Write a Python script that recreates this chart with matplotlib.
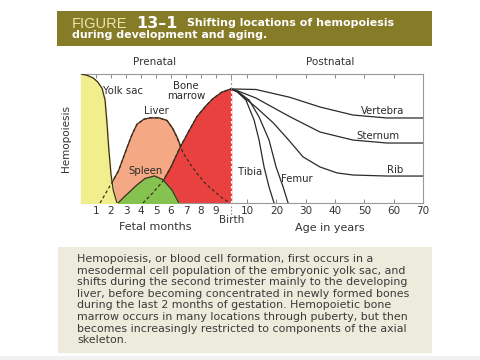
import numpy as np
import matplotlib
matplotlib.use("Agg")
import matplotlib.pyplot as plt
from matplotlib.patches import Rectangle

plt.rcParams['font.family'] = ['DejaVu Sans']

# prenatal curves, x in fetal months (birth = 10)
yolk_m = [0, 0.4, 0.8, 1.1, 1.4, 1.6, 1.73, 1.85, 2.0, 2.15, 2.4]
yolk_v = [1.0, 0.99, 0.97, 0.94, 0.89, 0.8, 0.62, 0.42, 0.22, 0.1, 0]
liver_m = [1.27, 2.07, 2.5, 3.07, 3.4, 3.73, 4.2, 4.6, 5.2, 5.73, 6.1, 6.4, 6.8, 7.3, 7.73, 8.3, 8.8, 9.4, 9.93]
liver_v = [0, 0.16, 0.25, 0.43, 0.53, 0.61, 0.65, 0.66, 0.66, 0.64, 0.58, 0.51, 0.39, 0.3, 0.23, 0.15, 0.1, 0.04, 0]
spleen_m = [2.47, 2.9, 3.27, 3.73, 4.27, 4.9, 5.47, 6.07, 6.53]
spleen_v = [0, 0.05, 0.09, 0.14, 0.19, 0.21, 0.18, 0.1, 0]
marrow_m = [4.13, 4.8, 5.47, 6.0, 6.6, 7.2, 7.73, 8.3, 8.8, 9.4, 10.0]
marrow_v = [0, 0.08, 0.17, 0.28, 0.43, 0.56, 0.67, 0.75, 0.81, 0.86, 0.884]

# postnatal curves, x in years after birth
tibia_a = [0, 4, 9.3, 12.4, 14.1, 15.8, 17.5, 19.2]
tibia_v = [0.884, 0.862, 0.798, 0.643, 0.488, 0.279, 0.124, 0]
femur_a = [0, 4, 10.7, 14.1, 17.5, 19.9, 22.3, 24.0]
femur_v = [0.884, 0.866, 0.798, 0.667, 0.488, 0.279, 0.124, 0]
rib_a = [0, 4, 13, 19, 24.5, 29.1, 34.9, 40.7, 46.1, 57.7, 70]
rib_v = [0.884, 0.86, 0.744, 0.62, 0.48, 0.357, 0.279, 0.233, 0.217, 0.209, 0.209]
sternum_a = [0, 4, 13, 24.5, 34.9, 46.1, 57.7, 70]
sternum_v = [0.884, 0.87, 0.814, 0.67, 0.55, 0.488, 0.465, 0.465]
vertebra_a = [0, 13, 24.5, 34.9, 46.1, 57.7, 70]
vertebra_v = [0.884, 0.88, 0.82, 0.744, 0.682, 0.659, 0.659]

month_ticks = [1, 2, 3, 4, 5, 6, 7, 8, 9]
year_ticks = [10, 20, 30, 40, 50, 60, 70]
birth = 10

caption = [
    "Hemopoiesis, or blood cell formation, first occurs in a",
    "mesodermal cell population of the embryonic yolk sac, and",
    "shifts during the second trimester mainly to the developing",
    "liver, before becoming concentrated in newly formed bones",
    "during the last 2 months of gestation. Hemopoietic bone",
    "marrow occurs in many locations through puberty, but then",
    "becomes increasingly restricted to components of the axial",
    "skeleton.",
]


def age_to_x(a):
    # broken axis: birth..10 yr squeezed, then linear
    return np.interp(a, [0, 10, 70], [birth, 11.07, 22.8])


edge = '#3b2d20'
fig = plt.figure(figsize=(4.8, 3.6), dpi=100)

# header banner
fig.patches.append(Rectangle((57/480, 1-46/360), 375/480, 35/360, transform=fig.transFigure,
                             facecolor='#867b27', edgecolor='none'))
fig.text(72/480, 1-23.5/360, "FIGURE", color='#ebe6ae', fontsize=10.5, va='center',
         family='Liberation Sans')
fig.text(136/480, 1-23.5/360, "13\u20131", color='white', fontsize=11.5, weight='bold', va='center')
fig.text(187/480, 1-23.5/360, "Shifting locations of hemopoiesis", color='white', fontsize=7.9,
         weight='bold', va='center')
fig.text(72/480, 1-35/360, "during development and aging.", color='white', fontsize=7.9,
         weight='bold', va='center')

# caption box
fig.patches.append(Rectangle((58/480, 1-353/360), 374/480, 106/360, transform=fig.transFigure,
                             facecolor='#ecebdc', edgecolor='none'))
fig.patches.append(Rectangle((0, 0), 1, 4/360, transform=fig.transFigure,
                             facecolor='#f1f1f1', edgecolor='none'))
for i, line in enumerate(caption):
    fig.text(77/480, 1-(259 + i*11.6)/360, line, color='#3a3a3a', fontsize=7.95, va='center')

ax = fig.add_axes([81/480, 1-203/360, 342/480, 129/360])
ax.set_xlim(0, 22.8)
ax.set_ylim(0, 1)

ax.fill_between(liver_m, liver_v, color='#f4a884', zorder=1)
ax.plot(liver_m, liver_v, color=edge, lw=0.9, zorder=1)
ax.fill_between(marrow_m, marrow_v, color='#e8413f', zorder=2)
ax.plot(marrow_m, marrow_v, color=edge, lw=0.9, zorder=2)
ax.fill_between(yolk_m, yolk_v, color='#f1ee8e', zorder=3)
ax.plot(yolk_m, yolk_v, color=edge, lw=0.9, zorder=3)
ax.fill_between(spleen_m, spleen_v, color='#86c24f', zorder=4)
ax.plot(spleen_m, spleen_v, color=edge, lw=0.9, zorder=4)
ax.plot(liver_m, liver_v, color=edge, lw=0.9, ls=(0, (2.5, 2)), zorder=5)
ax.plot(marrow_m, marrow_v, color=edge, lw=0.9, ls=(0, (2.5, 2)), zorder=5)

for a, v in [(tibia_a, tibia_v), (femur_a, femur_v), (rib_a, rib_v),
             (sternum_a, sternum_v), (vertebra_a, vertebra_v)]:
    ax.plot(age_to_x(np.array(a)), v, color='#2a2a2a', lw=0.9, zorder=5)

# birth line
ax.plot([birth, birth], [0, marrow_v[-1]], color='white', lw=0.9, ls=(0, (2, 2)), zorder=6)
ax.plot([birth, birth], [marrow_v[-1], 1], color='#999999', lw=0.8, ls=(0, (2, 2)), zorder=6)
ax.plot([birth, birth], [-0.02, -0.1], color='#999999', lw=0.8, ls=(0, (1.5, 1.5)),
        clip_on=False)

lab = dict(fontsize=7.3, color='#2a2a2a', va='center', zorder=7)
ax.text(1.47, 0.868, "Yolk sac", ha='left', **lab)
ax.text(7.0, 0.87, "Bone\nmarrow", ha='center', linespacing=1.0, **lab)
ax.text(5.0, 0.713, "Liver", ha='center', **lab)
ax.text(4.27, 0.248, "Spleen", ha='center', **lab)
ax.text(11.27, 0.24, "Tibia", ha='center', **lab)
ax.text(13.33, 0.186, "Femur", ha='left', **lab)
ax.text(20.13, 0.713, "Vertebra", ha='center', **lab)
ax.text(19.8, 0.519, "Sternum", ha='center', **lab)
ax.text(20.93, 0.256, "Rib", ha='center', **lab)

xt = list(month_ticks) + [birth] + list(age_to_x(np.array(year_ticks)))
xl = [str(m) for m in month_ticks] + [""] + [str(y) for y in year_ticks]
ax.set_xticks(xt)
ax.set_xticklabels(xl)
ax.set_yticks([])
ax.tick_params(axis='x', direction='in', length=3, width=0.7, color='#888888', top=True,
               labelsize=7.5, labelcolor='#333333', pad=2.5)
for s in ax.spines.values():
    s.set_color('#999999')
    s.set_linewidth(0.8)

fig.text(232/480, 1-220/360, "Birth", ha='center', va='center', fontsize=7.5, color='#333333')
fig.text(155/480, 1-227/360, "Fetal months", ha='center', va='center', fontsize=8, color='#333333')
fig.text(330/480, 1-228/360, "Age in years", ha='center', va='center', fontsize=8, color='#333333')
fig.text(155/480, 1-62/360, "Prenatal", ha='center', va='center', fontsize=7.5, color='#333333')
fig.text(330/480, 1-62/360, "Postnatal", ha='center', va='center', fontsize=7.5, color='#333333')
fig.text(66/480, 1-139/360, "Hemopoiesis", ha='center', va='center', rotation=90, fontsize=7.5,
         color='#333333')

fig.savefig("out.png", dpi=100)
